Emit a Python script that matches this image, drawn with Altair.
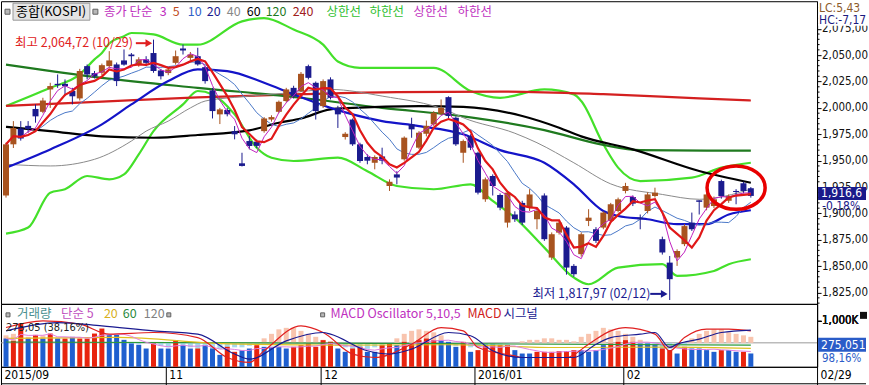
import altair as alt
import pandas as pd

# ---------------- data ----------------
opens = [1917, 1965.5, 1980.5, 1983, 1999, 1996.3, 2017.5, 2022.8, 2022.8, 2016,
         2009, 2039.6, 2033, 2033.3, 2039.6, 2041.2, 2045, 2050.6, 2041, 2046,
         2052, 2035.5, 2033, 2042.7, 2056.3, 2047.4, 2049, 2038.6, 2016.6, 1993.9,
         1998, 1978, 1947.5, 1968.6, 1968, 1978, 1989, 1996.3, 2006.5, 2019,
         2016, 2039.6, 2023.8, 2001.7, 2027, 2000, 1972.4, 1989, 1965.5, 1953.5,
         1948, 1954, 1926, 1937, 1951.3, 1984.4, 1962.3, 1975.5, 1984.4, 1994.5,
         2010.2, 1990.7, 1957.5, 1973.3, 1957.5, 1913.4, 1935.5, 1917.5, 1891.3, 1899,
         1910, 1905.5, 1894.5, 1917, 1858.2, 1881.8, 1886.6, 1850.3, 1861.4, 1892.9,
         1885, 1886.6, 1892.9, 1902.3, 1921.3, 1915.6, 1896, 1902.3, 1916.5, 1875.6,
         1853.4, 1858.2, 1870.9, 1891.3, 1912.4, 1905.5, 1907, 1930.7, 1912, 1921.3,
         1928.6, 1923.9]
highs = [1967, 1987.5, 1987.5, 1987.5, 2003.3, 2009.6, 2023.8, 2031.7, 2027, 2019,
         2037, 2041.2, 2035, 2042, 2053.8, 2043, 2055.4, 2052, 2048, 2049,
         2064.72, 2037, 2038, 2054.4, 2060, 2053, 2057, 2040, 2019, 2000,
         2000, 1982.8, 1957.5, 1973.3, 1970, 1991.3, 1993, 2007, 2019, 2021,
         2034, 2041, 2025, 2027, 2029, 2002, 1977, 1990, 1967, 1956,
         1955, 1962.3, 1932.3, 1940, 1973, 1990.7, 1978, 1988, 1997, 2008,
         2011, 1992, 1970, 1975, 1958.5, 1934, 1937, 1919, 1921, 1902,
         1912, 1923, 1904, 1919, 1882, 1893, 1888, 1852, 1882, 1904,
         1887, 1902, 1910, 1915, 1929, 1917, 1899, 1920, 1924.4, 1878,
         1859.7, 1866, 1890, 1900.8, 1912.5, 1920, 1916, 1932, 1918, 1923,
         1930, 1925]
lows = [1915, 1962, 1969, 1976.5, 1986, 1995, 2000, 2019, 2011.2, 2003.3,
        2007, 2027, 2028, 2031, 2038, 2020.7, 2040, 2040, 2039, 2039.6,
        2033.3, 2027, 2031, 2041, 2050.6, 2045, 2040, 2023, 1990, 1984.7,
        1992, 1970.2, 1944.5, 1960.7, 1962, 1976.5, 1987, 1995, 2005, 2009,
        2015, 2027, 1989, 2000, 2008, 1981, 1970, 1964, 1948, 1946.6,
        1941.8, 1946.6, 1921.3, 1927.6, 1950, 1971.7, 1961, 1973, 1983, 1993,
        1990, 1964, 1948, 1960, 1918, 1911, 1917, 1903, 1886.6, 1892,
        1889, 1902.3, 1885, 1874, 1856, 1880, 1842, 1840, 1859, 1888,
        1872, 1885, 1891, 1901, 1919, 1907, 1885, 1900, 1915, 1861,
        1817.97, 1850.3, 1869, 1883.4, 1899, 1903, 1905, 1914, 1910, 1908.7,
        1919, 1915]
closes = [1965.5, 1981, 1971, 1980, 1992, 2007, 2020.7, 2021.6, 2020.5, 2011,
          2035, 2031.7, 2030, 2040.5, 2045, 2025.4, 2041, 2049, 2046, 2042.7,
          2035, 2030, 2036.5, 2049, 2054.4, 2050.6, 2041.2, 2025.4, 1997, 1998.6,
          1994, 1975, 1945, 1963.9, 1964, 1990, 1991.3, 2005.8, 2017.5, 2011,
          2032.3, 2028.5, 1997, 2025.4, 2009.6, 1993.9, 1975.5, 1965.5, 1949.7, 1950,
          1953.5, 1950, 1930, 1934, 1971.8, 1979.7, 1976.5, 1983, 1995.4, 2000,
          1992.3, 1965.5, 1968.6, 1962.3, 1919.7, 1932.3, 1926, 1905.5, 1919.7, 1894.5,
          1891.3, 1918, 1902.3, 1875.6, 1880.3, 1891.3, 1848.7, 1842.4, 1880.3, 1896,
          1874, 1900.8, 1908.7, 1913.4, 1926, 1909.3, 1894.5, 1918, 1919.7, 1863,
          1837.7, 1864.4, 1888, 1885, 1911, 1918, 1913.4, 1916.5, 1916.5, 1920.3,
          1921.3, 1916.6]

volumes = [615, 565, 941, 615, 695, 615, 724, 615, 615, 652,
           615, 615, 724, 833, 695, 695, 587, 507, 478, 398,
           507, 398, 398, 580, 471, 398, 398, 471, 398, 260,
           435, 326, 362, 398, 471, 435, 435, 435, 398, 435,
           471, 507, 435, 580, 543, 398, 326, 398, 435, 326,
           326, 472, 507, 472, 543, 507, 580, 615, 580, 580,
           543, 435, 543, 326, 363, 472, 472, 472, 472, 363,
           289, 289, 326, 326, 326, 341, 341, 363, 363, 326,
           363, 472, 507, 543, 580, 543, 507, 507, 472, 398,
           363, 289, 435, 398, 398, 363, 326, 363, 363, 326,
           326, 290]
vol_dir = list("duudududud" "uuuudddddd" "uddudduddd" "uudduddddu" "uuuuudduud"
               "duuduuuuud" "dduduuuuud" "dduuuuuudd" "dduuuudddu" "ududdddudd" "ud")
osc = [5, 6, 6, 4, 5, 5, 4, 3, 2,
       1, 0, -1, -2, -3, -3, -2, -2, -1, -1, 0,
       -2, -2, -3, -3, -3, -3, -4, -4, -4, -4, -3, -3, -3, -2, -1,
       3, 6, 9, 10, 10, 8, 6, 4,
       2, 1,
       -2, -3, -4, -4, -4, -3, -3, -2,
       3, 6, 8, 9, 8, 7, 5,
       -1, -2, -3, -3,
       -3, -2, -2, -1, -1, 0,
       1, 2, 2, 3, 3, 2, 2, 1,
       4, 6, 8, 10, 9, 8, 6, 4, 2,
       -2, -4, -5, -4, -3, -1,
       3, 6, 8, 9, 9, 7, 6, 5, 4]

# lines read at sample bars (bar index, value)
bbu_idx = [0, 6, 10, 12, 13, 14, 16, 17, 20, 24, 26, 32, 35, 39, 43, 45, 48, 58, 63, 67, 73, 77, 78, 81, 83, 86, 93, 97, 101]
bbu_val = [2001.7, 2019, 2031.7, 2046, 2052, 2061, 2068, 2071, 2069.6, 2060, 2060, 2082, 2085, 2074.3, 2060, 2044, 2038, 2038, 2016, 2009.6, 2017.5, 2012.8, 2006.5, 1965.5, 1943.4, 1930.7, 1933.9, 1943.4, 1948]
bbl_idx = [0, 3, 6, 8, 11, 14, 16, 18, 20, 24, 26, 28, 31, 34, 36, 39, 45, 49, 53, 58, 63, 66, 69, 73, 77, 79, 83, 89, 91, 96, 98, 101]
bbl_val = [1880.9, 1886.6, 1919.7, 1922.9, 1935.5, 1932.3, 1937, 1956, 1978, 2003.3, 2016, 2012.8, 1993.9, 1962.3, 1952.8, 1949.7, 1952.8, 1940, 1926, 1922.9, 1927.6, 1911.8, 1896, 1867.6, 1839.2, 1832.9, 1848.7, 1851.9, 1840.8, 1845.5, 1851.9, 1856.6]
ma20_idx = [0, 6, 13, 17, 22, 26, 30, 35, 39, 44, 51, 56, 62, 67, 73, 77, 81, 83, 87, 91, 95, 98, 101]
ma20_val = [1943.4, 1960.7, 1984.4, 2003.3, 2025.4, 2036.5, 2034.9, 2023.8, 2012.8, 2000, 1987.5, 1982.8, 1975, 1960, 1948, 1927.6, 1902.3, 1897.6, 1894.5, 1889.8, 1889.8, 1899, 1903]
ma40_idx = [0, 6, 12, 17, 19, 22, 25, 27, 31, 38, 44, 51, 60, 62, 69, 72, 77, 82, 89, 94, 101]
ma40_val = [1946.6, 1945, 1951.3, 1968.6, 1978, 1987.5, 2000, 2006.5, 2010, 2014, 2017.5, 2011.2, 1997, 1990.7, 1976, 1967, 1948, 1928, 1918, 1913.4, 1923]
ma60_idx = [0, 6, 13, 20, 26, 33, 37, 40, 44, 47, 56, 62, 70, 75, 78, 85, 94, 101]
ma60_val = [1982, 1978, 1973, 1971.7, 1974.3, 1978.7, 1985.9, 1990, 1998.6, 2000, 2001.7, 2001, 1992.3, 1981.2, 1973, 1960.7, 1940.2, 1929.1]
ma120_idx = [0, 13, 26, 40, 51, 62, 73, 81, 86, 95, 101]
ma120_val = [2041, 2028.5, 2019, 2009.6, 2000, 1992, 1979, 1965, 1960, 1959.5, 1959.5]
ma240_idx = [0, 13, 26, 40, 53, 67, 81, 94, 101]
ma240_val = [2002, 2006, 2010, 2013, 2015, 2015.5, 2013, 2009, 2007]

macd_idx = [0, 5, 10, 14, 20, 26, 30, 33, 35, 40, 43, 47, 50, 55, 59, 62, 64, 69, 70, 76, 79, 82, 84, 88, 90, 92, 95, 98, 101]
macd_val = [10.2, 14.7, 12.5, 5.8, 6.9, 3.5, -9.8, -13.1, -5.3, 11.3, 6.9, -7.5, -9.8, -0.9, 10.2, 8, -3.1, -8.7, -9.8, -9.8, -0.9, 8, 10.2, 5.8, -5.3, 3.5, 9.1, 9.1, 8]
sig_idx = [0, 7, 13, 20, 26, 31, 33, 38, 43, 44, 49, 52, 55, 60, 63, 66, 70, 77, 80, 82, 86, 88, 90, 91, 94, 97, 101]
sig_val = [8, 13.5, 11.3, 8, 5.8, -7.5, -10.9, 1.3, 6.9, 5.8, -5.3, -7.5, -4.2, 6.9, 4.7, -5.3, -9.8, -9.8, -0.9, 3.5, 5.8, 6.9, -3.1, -0.9, 2.5, 6.9, 8.5]
vma20_idx = [0, 15, 30, 45, 60, 75, 90, 101]
vma20_val = [620, 640, 500, 470, 480, 420, 430, 400]
vma60_idx = [0, 50, 101]
vma60_val = [540, 510, 470]

price_ticks = [1825, 1850, 1875, 1900, 1925, 1950, 1975, 2000, 2025, 2050, 2075]
minor_ticks = [v for v in range(1815, 2101, 5) if v % 25]
date_ticks = [-0.68, 21.67, 42.67, 63.52, 83.71, 109.98]
date_labels = ['2015/09', '11', '12', '2016/01', '02', '02/29']

# ---------------- layout / style ----------------
W, HM, HV = 817, 303, 63
X_DOM = [-0.68, 109.98]
P_DOM = [1814.3, 2101.1]
V_DOM = [0, 1370]
M_DOM = [-16, 26]
KR = "'Noto Sans CJK KR', 'Noto Sans', sans-serif"
NARROW = "'DejaVu Sans Condensed', 'Liberation Sans Narrow', 'Arial Narrow', sans-serif"
UP, DN = '#a8531f', '#1b1b8e'
MAG = '#c030c0'

n = len(closes)
cdf = pd.DataFrame({'idx': list(range(n)), 'open': opens, 'high': highs, 'low': lows, 'close': closes})
vdf = pd.DataFrame({'idx': list(range(n)), 'vol': volumes, 'vdir': vol_dir, 'osc': osc})
one = pd.DataFrame({'a': [0]})

xs = alt.Scale(domain=X_DOM, nice=False, zero=False, padding=0)
ps = alt.Scale(domain=P_DOM, nice=False, zero=False, padding=0)
vs = alt.Scale(domain=V_DOM, nice=False, zero=False, padding=0)
ms = alt.Scale(domain=M_DOM, nice=False, zero=False, padding=0)

lbl_expr = ''
for i in range(len(date_ticks) - 1):
    mid = (date_ticks[i] + date_ticks[i + 1]) / 2
    lbl_expr += f"datum.value < {mid} ? '{date_labels[i]}' : "
lbl_expr += f"'{date_labels[-1]}'"

# one axis object per shared scale (identical on every layer that uses the scale)
P_AXIS = alt.Axis(orient='right', values=price_ticks,
                  labelExpr="replace(format(datum.value, ',.2f'), '.', ',')",
                  tickSize=4, tickColor='black', domainColor='black', labelColor='#111111',
                  labelFont=NARROW, labelFontSize=11.5, labelPadding=0.5, grid=False, title=None)
X_AXIS = alt.Axis(values=date_ticks, labelExpr=lbl_expr, tickSize=19, tickColor='black',
                  labelPadding=-16, labelAlign='left', labelBaseline='top', labelOffset=3,
                  labelFlush=False, labelOverlap=False, labelFont=NARROW, labelFontSize=12,
                  labelColor='black', domainColor='black', grid=False, title=None)
V_AXIS = alt.Axis(orient='right', values=[1000], labelExpr="'1,000K'", tickSize=4, tickColor='black',
                  domainColor='black', labelColor='#111111', labelFont=NARROW, labelFontSize=11.5,
                  labelPadding=0.5, grid=False, title=None)


def xq(panel):
    return alt.X('idx:Q', scale=xs, axis=None if panel == 'main' else X_AXIS)


def yq(field, scale):
    if scale is ps:
        ax = P_AXIS
    elif scale is vs:
        ax = V_AXIS
    else:
        ax = None
    return alt.Y(field, type='quantitative', scale=scale, axis=ax)


def panel_of(scale):
    return 'main' if scale is ps else 'vol'


def sampled(ix, vals, color, width, scale):
    d = pd.DataFrame({'idx': ix, 'v': vals})
    return alt.Chart(d).mark_line(color=color, strokeWidth=width, interpolate='monotone', clip=True).encode(
        x=xq(panel_of(scale)), y=yq('v', scale))


def windowed(df, field, k, color, width, scale):
    return alt.Chart(df).transform_window(
        m=f'mean({field})', frame=[-(k - 1), 0], sort=[alt.SortField('idx')]
    ).mark_line(color=color, strokeWidth=width, clip=True).encode(
        x=xq(panel_of(scale)), y=yq('m', scale))


def txt(s, x, y, color, size=12, font=KR, align='left', weight='normal'):
    return alt.Chart(one).mark_text(text=s, align=align, baseline='middle', font=font, fontSize=size,
                                    color=color, fontWeight=weight, clip=False).encode(
        x=alt.value(x), y=alt.value(y))


def box(x1, x2, y1, y2, fill, stroke=None):
    kw = dict(fill=fill, clip=False)
    if stroke:
        kw.update(stroke=stroke, strokeWidth=1)
    return alt.Chart(one).mark_rect(**kw).encode(x=alt.value(x1), x2=alt.value(x2), y=alt.value(y1), y2=alt.value(y2))


def arrow(x1, x2, y, color):
    shaft = alt.Chart(one).mark_rule(color=color, strokeWidth=2, clip=False).encode(
        x=alt.value(x1), x2=alt.value(x2 - 4), y=alt.value(y))
    head = alt.Chart(one).mark_point(shape='triangle-right', filled=True, size=60, color=color, opacity=1, clip=False).encode(
        x=alt.value(x2 - 3), y=alt.value(y))
    return [shaft, head]


cond = alt.condition('datum.close >= datum.open', alt.value(UP), alt.value(DN))

wicks = alt.Chart(cdf).mark_rule(strokeWidth=1).encode(
    x=xq('main'), y=yq('low', ps), y2='high:Q', color=cond)
bodies = alt.Chart(cdf).mark_bar(size=6).encode(
    x=xq('main'), y=yq('open', ps), y2='close:Q', color=cond)

minor = alt.Chart(pd.DataFrame({'m': minor_ticks})).mark_rule(color='black', clip=False).encode(
    y=yq('m', ps), x=alt.value(W), x2=alt.value(W + 2.5))

ELLIPSE = 'M -1.34 0 A 1.34 1 0 1 0 1.34 0 A 1.34 1 0 1 0 -1.34 0 Z'
ellipse = alt.Chart(pd.DataFrame({'idx': [99.0], 'p': [1924.4]})).mark_point(
    shape=ELLIPSE, size=1884, filled=False, color='#e80000', strokeWidth=3.5, opacity=1).encode(
    x=xq('main'), y=yq('p', ps))

main_layers = [
    sampled(bbu_idx, bbu_val, '#44e02a', 2.2, ps),
    sampled(bbl_idx, bbl_val, '#44e02a', 2.2, ps),
    sampled(ma240_idx, ma240_val, '#d42020', 2.2, ps),
    sampled(ma120_idx, ma120_val, '#1f7a1f', 2.2, ps),
    sampled(ma60_idx, ma60_val, '#000000', 2.2, ps),
    sampled(ma40_idx, ma40_val, '#8a8a8a', 1, ps),
    sampled(ma20_idx, ma20_val, '#1414c8', 2.2, ps),
    windowed(cdf, 'close', 10, '#4a78c8', 1, ps),
    wicks, bodies,
    windowed(cdf, 'close', 3, '#c020c0', 1, ps),
    windowed(cdf, 'close', 5, '#e01818', 2.2, ps),
    ellipse, minor,
]

# legend row
main_layers += [
    box(4, 9, 8, 13, '#b8b8b8', '#606060'),
    box(12, 89, 2, 19, '#e4e4e4', '#9a9a9a'),
    txt('종합(KOSPI)', 15, 11, '#000000', 13),
    box(92, 97, 8, 13, '#b8b8b8', '#606060'),
]
for s, x, c in [('종가 단순', 103, MAG), ('3', 159, MAG), ('5', 172, '#c04a20'), ('10', 187, '#3060c8'),
                ('20', 206, '#1a1a90'), ('40', 226, '#888888'), ('60', 246, '#000000'), ('120', 265, '#1f7a1f'),
                ('240', 292, '#a02020'), ('상한선', 326, '#30c030'), ('하한선', 369, '#30c030'),
                ('상한선', 413, MAG), ('하한선', 457, MAG)]:
    main_layers.append(txt(s, x, 11, c, 12.5))

# annotations
main_layers.append(txt('최고 2,064,72 (10/29)', 14, 42, '#e02020', 12.5))
main_layers += arrow(135, 151, 42, '#e02020')
main_layers.append(txt('최저 1,817,97 (02/12)', 532, 293, '#1a1a90', 12.5))
main_layers += arrow(650, 667, 293, '#1a1a90')

# right side labels
main_layers += [
    box(818, 868, 0, 24.5, 'white'),
    txt('LC:5,43', 819, 7, '#8b5a2b', 12, NARROW),
    txt('HC:-7,17', 819, 19, '#1a1a80', 12, NARROW),
    box(818, 866, 186, 199, '#1a1a8a'),
    txt('1,916,6', 821, 192.5, 'white', 12, NARROW),
    txt('-0,18%', 822, 205, '#1a1a8a', 12, NARROW),
]

main = alt.layer(*main_layers).properties(width=W, height=HM)

# ---------------- volume / MACD panel ----------------
zero_line = alt.Chart(pd.DataFrame({'z': [0]})).mark_rule(color='#9a9a9a').encode(
    y=yq('z', ms))
osc_bars = alt.Chart(vdf).mark_bar(size=5).encode(
    x=xq('vol'), y=yq('osc', ms), y2=alt.datum(0),
    color=alt.condition('datum.osc >= 0', alt.value('#f8c4ae'), alt.value('#a6d8ec')))
vol_bars = alt.Chart(vdf).mark_bar(size=5).encode(
    x=xq('vol'), y=yq('vol', vs), y2=alt.datum(0),
    color=alt.condition("datum.vdir == 'u'", alt.value('#e8240e'), alt.value('#1f5fcf')))

vol_layers = [
    zero_line, osc_bars, vol_bars,
    sampled(vma60_idx, vma60_val, '#2a9a3a', 1.2, vs),
    sampled(vma20_idx, vma20_val, '#e0c020', 1.2, vs),
    windowed(vdf, 'vol', 5, '#e080e0', 1, vs),
    sampled(macd_idx, macd_val, '#e02020', 1.2, ms),
    sampled(sig_idx, sig_val, '#1a1a90', 1.2, ms),
    box(5, 9, 9, 13, '#b8b8b8', '#606060'),
    txt('거래량', 16, 10, '#4a9090', 12.5),
    txt('단순 5', 60, 10, '#c050c0', 12.5),
    txt('20', 103, 10, '#d8b020', 12.5),
    txt('60', 122, 10, '#2a8a3a', 12.5),
    txt('120', 143, 10, '#808080', 12.5),
    box(166, 170, 9, 13, '#b8b8b8', '#606060'),
    box(320, 324, 9, 13, '#b8b8b8', '#606060'),
    txt('MACD Oscillator 5,10,5', 330, 10, MAG, 12.5),
    txt('MACD', 467, 10, '#d02020', 12.5),
    txt('시그널', 503, 10, '#202090', 12.5),
    txt('275,05   (38,16%)', 5, 24, '#222222', 11, NARROW),
    box(860, 867, 8, 15, '#111111'),
    box(818, 866, 34, 48, '#2a5cc8'),
    txt('275,051', 821, 41, 'white', 12, NARROW),
    txt('98,16%', 822, 55, '#2a5cc8', 11.5, NARROW),
    alt.Chart(one).mark_rule(color='black', clip=False).encode(
        x=alt.value(0), x2=alt.value(866), y=alt.value(HV + 17)),
    alt.Chart(one).mark_rule(color='black', clip=False).encode(
        x=alt.value(0.5), y=alt.value(HV), y2=alt.value(HV + 18)),
]
vol = alt.layer(*vol_layers).resolve_scale(y='independent').properties(width=W, height=HV)

chart = alt.vconcat(main, vol, spacing=0, bounds='flush', padding=0, background='white').configure_view(
    stroke='black', strokeWidth=1)

chart.save('out.html', embed_options={'renderer': 'svg', 'actions': False})
